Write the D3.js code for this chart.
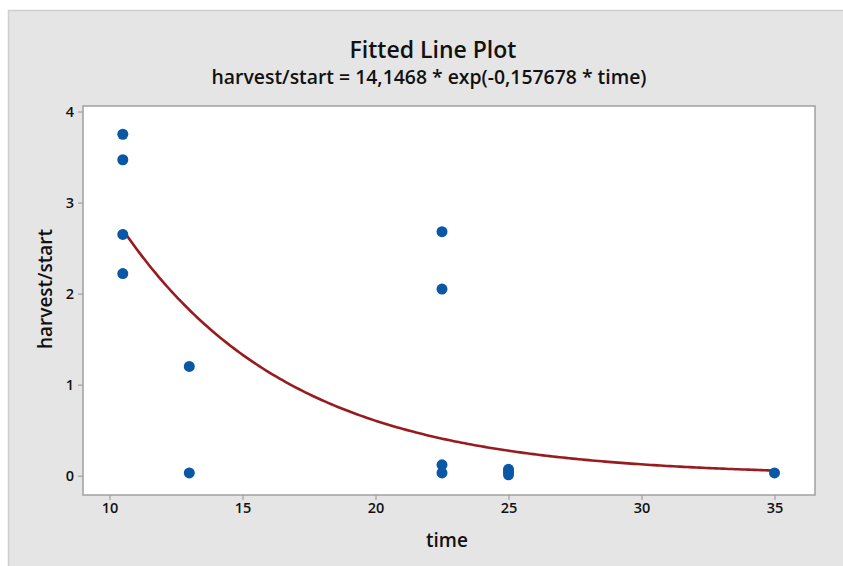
<!DOCTYPE html>
<html><head><meta charset="utf-8">
<script src="https://d3js.org/d3.v7.min.js"></script>
<style>body{margin:0;background:#fff}svg{display:block}text{font-family:"Open Sans",sans-serif;fill:#111}</style>
</head><body><svg id="c" width="843" height="566"></svg>
<script>
const timeVals  = [10.5,10.5,10.5,10.5, 13,13, 22.5,22.5,22.5,22.5, 25,25,25, 35];
const ratioVals = [3.75,3.47,2.65,2.22, 1.20,0.03, 2.68,2.05,0.12,0.03, 0.07,0.04,0.01, 0.03];
const xTicks = [10,15,20,25,30,35];
const yTicks = [0,1,2,3,4];
const fitA = 14.1468, fitB = -0.157678;
const titleText = "Fitted Line Plot";
const subtitleText = "harvest/start = 14,1468 * exp(-0,157678 * time)";
const xLabel = "time", yLabel = "harvest/start";

const svg = d3.select("#c");
svg.append("rect").attr("x",8.5).attr("y",10.5).attr("width",850).attr("height",570)
  .attr("fill","#e5e5e5").attr("stroke","#cfcfcf").attr("stroke-width",1.5);

const L=83, R=815, T=106, B=495;
const x = d3.scaleLinear().domain([10,35]).range([109.5,774.5]);
const y = d3.scaleLinear().domain([0,4]).range([475.7,111.5]);

svg.append("rect").attr("x",L).attr("y",T).attr("width",R-L).attr("height",B-T)
  .attr("fill","#fff").attr("stroke","#a0a0a0").attr("stroke-width",1.5);

const xAxis = svg.append("g").attr("transform",`translate(0,${B})`)
  .call(d3.axisBottom(x).tickValues(xTicks).tickFormat(d3.format("d")).tickSize(5).tickSizeOuter(0).tickPadding(3));
xAxis.select(".domain").remove();
const yAxis = svg.append("g").attr("transform",`translate(${L},0)`)
  .call(d3.axisLeft(y).tickValues(yTicks).tickFormat(d3.format("d")).tickSize(5).tickSizeOuter(0).tickPadding(4));
yAxis.select(".domain").remove();
svg.selectAll(".tick line").attr("stroke","#a0a0a0").attr("stroke-width",1.2);
svg.selectAll(".tick text").attr("font-size",14.5).attr("font-weight",600)
  .attr("font-family","'Open Sans',sans-serif").attr("fill","#111");

// fitted curve
const ts = d3.range(0,201).map(i=>10.5+i*(35-10.5)/200);
const line = d3.line().x(t=>x(t)).y(t=>y(fitA*Math.exp(fitB*t)));
svg.append("path").datum(ts).attr("d",line).attr("fill","none")
  .attr("stroke","#981b1e").attr("stroke-width",2.6);

svg.append("g").selectAll("circle").data(timeVals).join("circle")
  .attr("cx",(d)=>x(d)).attr("cy",(d,i)=>y(ratioVals[i])).attr("r",5.5)
  .attr("fill","#0a57a6");

svg.append("text").attr("x",433).attr("y",58).attr("text-anchor","middle")
  .attr("font-size",23).attr("font-weight",600).text(titleText);
svg.append("text").attr("x",429).attr("y",84).attr("text-anchor","middle")
  .attr("font-size",19.4).attr("font-weight",600).text(subtitleText);
svg.append("text").attr("x",447).attr("y",547).attr("text-anchor","middle")
  .attr("font-size",19).attr("font-weight",600).text(xLabel);
svg.append("text").attr("transform","translate(52,289) rotate(-90)").attr("text-anchor","middle")
  .attr("font-size",19).attr("font-weight",600).text(yLabel);
</script></body></html>
